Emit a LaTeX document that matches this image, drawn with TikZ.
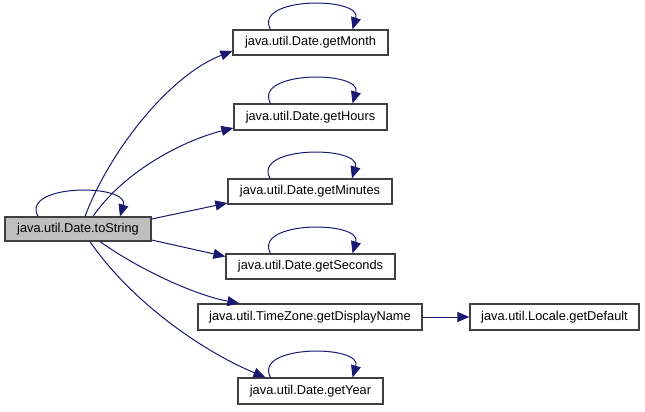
\documentclass[tikz,border=0pt]{standalone}
\usepackage{fontspec}
\setmainfont{Liberation Sans}
\usetikzlibrary{arrows.meta,calc}
\definecolor{edgeblue}{HTML}{191970}
\definecolor{boxgray}{HTML}{BFBFBF}
\definecolor{boxline}{HTML}{404040}
\tikzset{
  fn/.style={draw=boxline, line width=0.9pt, fill=white, inner sep=0pt,
    font=\fontsize{9.6}{11}\selectfont, text=black},
  call/.style={draw=edgeblue, line width=0.75pt,
    -{Triangle[length=9pt,width=7.5pt]}},
}
\begin{document}
\begin{tikzpicture}[x=0.75pt,y=-0.75pt]
\useasboundingbox (0,0) rectangle (645,411);
\node[fn, fill=boxgray, minimum width=146*0.75pt, minimum height=24*0.75pt] (ts) at (78,229) {java.util.Date.toString};
\node[fn, minimum width=155*0.75pt, minimum height=25*0.75pt] (month) at (310.5,42.5) {java.util.Date.getMonth};
\node[fn, minimum width=153*0.75pt, minimum height=26*0.75pt] (hours) at (310.5,117) {java.util.Date.getHours};
\node[fn, minimum width=164*0.75pt, minimum height=25*0.75pt] (minutes) at (310,191.5) {java.util.Date.getMinutes};
\node[fn, minimum width=169*0.75pt, minimum height=25*0.75pt] (seconds) at (310.5,266.5) {java.util.Date.getSeconds};
\node[fn, minimum width=224*0.75pt, minimum height=26*0.75pt] (disp) at (310,317) {java.util.TimeZone.getDisplayName};
\node[fn, minimum width=169*0.75pt, minimum height=26*0.75pt] (def) at (554.5,317) {java.util.Locale.getDefault};
\node[fn, minimum width=145*0.75pt, minimum height=26*0.75pt] (year) at (310.5,391) {java.util.Date.getYear};

% self loops
\foreach \n in {ts,month,hours,minutes,seconds,year}{
  \draw[call] ($(\n.north)+(-40,0)$) .. controls +(-18,-33) and +(10,-33) .. ($(\n.north)+(42,0)$);
}
% calls
\draw[call] ($(ts.north)+(7,0)$) .. controls (110,150) and (170,75) .. ($(month.west)+(0,8.5)$);
\draw[call] ($(ts.north)+(15,0)$) .. controls (125,170) and (185,140) .. ($(hours.west)+(0,11)$);
\draw[call] ($(ts.east)+(0,-10)$) -- ($(minutes.west)+(0,11.5)$);
\draw[call] ($(ts.east)+(0,11)$) -- ($(seconds.west)+(0,-10)$);
\draw[call] ($(ts.south)+(22,0)$) .. controls (140,270) and (195,295) .. ($(disp.north west)+(42,0)$);
\draw[call] ($(ts.south)+(12,0)$) .. controls (130,300) and (200,350) .. ($(year.north west)+(28,0)$);
\draw[call] (disp.east) -- (def.west);
\end{tikzpicture}
\end{document}
